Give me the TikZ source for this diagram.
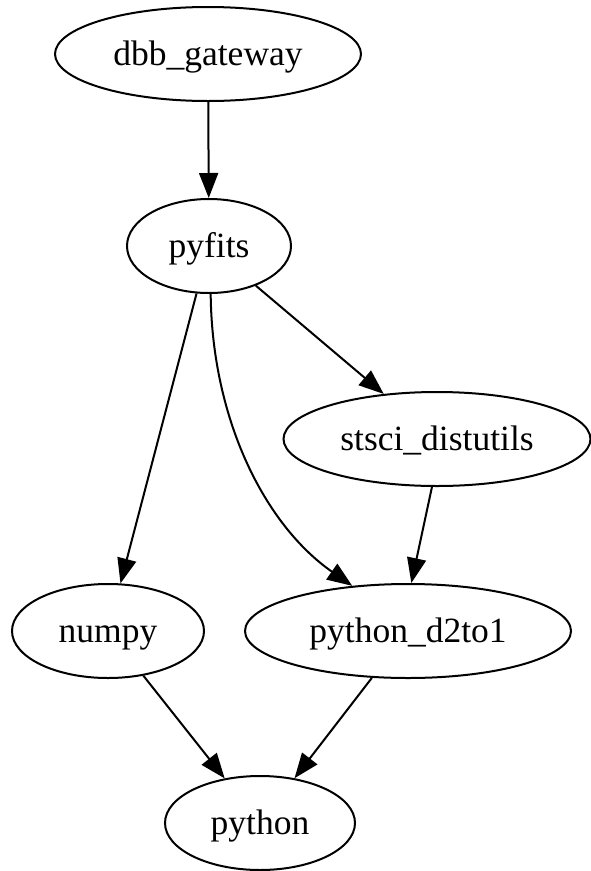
\documentclass[tikz,border=0pt]{standalone}
\usepackage{fontspec}
\setmainfont{Liberation Serif}
\usetikzlibrary{shapes.geometric,arrows.meta}

\begin{document}
\begin{tikzpicture}[x=1pt,y=-1pt,
  pkg/.style={draw, ellipse, line width=2pt, inner sep=0pt,
    minimum height=94pt, font=\fontsize{35.5}{40}\selectfont,
    text height=30pt, text depth=8pt},
  dep/.style={line width=2pt,
    -{Triangle[length=25pt, width=19pt]}}
]
\useasboundingbox (0,0) rectangle (591,871);

% packages
\node[pkg, minimum width=306pt] (dbb)    at (208,54)  {dbb\_gateway};
\node[pkg, minimum width=164pt] (pyfits) at (209,246) {pyfits};
\node[pkg, minimum width=307pt] (stsci)  at (437,439) {stsci\_distutils};
\node[pkg, minimum width=192pt] (numpy)  at (108,631) {numpy};
\node[pkg, minimum width=326pt] (d2to1)  at (408,631) {python\_d2to1};
\node[pkg, minimum width=190pt] (python) at (260,823) {python};

% dependencies
\draw[dep] (dbb) -- (pyfits);
\draw[dep] (pyfits) -- (stsci);
\draw[dep] (pyfits) -- (numpy);
\draw[dep] (pyfits.-88) .. controls (212,420) and (265,525) .. (d2to1.141.6);
\draw[dep] (stsci.-96) -- (d2to1.86);
\draw[dep] (numpy) -- (python);
\draw[dep] (d2to1) -- (python);
\end{tikzpicture}
\end{document}
